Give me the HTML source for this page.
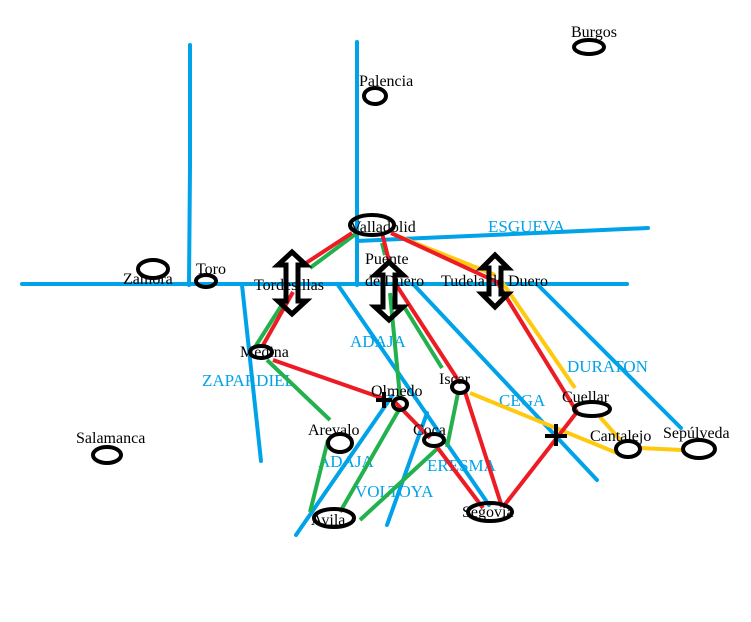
<!DOCTYPE html>
<html><head><meta charset="utf-8"><style>
html,body{margin:0;padding:0;background:#fff;}
svg{display:block}
text{font-family:"Liberation Serif",serif;font-size:16px;}
.b{fill:#00a2e8;font-size:17px}
</style></head><body>
<svg width="751" height="622" viewBox="0 0 751 622" xmlns="http://www.w3.org/2000/svg">
<g stroke="#00a2e8" stroke-width="4" fill="none" stroke-linecap="round">
<polyline points="190,45 190,165 189,285"/>
<line x1="357" y1="42" x2="357" y2="285"/>
<line x1="22" y1="284" x2="627" y2="284"/>
<line x1="357" y1="241" x2="648" y2="228"/>
<line x1="242" y1="285" x2="261" y2="461"/>
<line x1="338" y1="285" x2="489" y2="505"/>
<line x1="414" y1="285" x2="597" y2="480"/>
<line x1="537" y1="284" x2="681" y2="428"/>
<line x1="296" y1="535" x2="392" y2="396"/>
<line x1="387" y1="525" x2="427" y2="413"/>
</g>
<g class="b">
<text x="488" y="232" class="b">ESGUEVA</text>
<text x="567" y="372" class="b">DURATON</text>
<text x="499" y="406" class="b">CEGA</text>
<text x="350" y="347" class="b">ADAJA</text>
<text x="202" y="386" class="b">ZAPARDIEL</text>
<text x="318" y="467" class="b">ADAJA</text>
<text x="427" y="471" class="b">ERESMA</text>
<text x="355" y="497" class="b">VOLTOYA</text>
</g>
<g stroke="#22b14c" stroke-width="4" fill="none">
<line x1="357" y1="233" x2="310" y2="268"/>
<line x1="285" y1="300" x2="255" y2="347"/>
<line x1="267" y1="360" x2="330" y2="420"/>
<line x1="382" y1="243" x2="385" y2="255"/>
<line x1="390" y1="293" x2="400" y2="397"/>
<line x1="403" y1="305" x2="442" y2="368"/>
<line x1="458" y1="393" x2="447" y2="447"/>
<line x1="438" y1="448" x2="360" y2="520"/>
<line x1="400" y1="408" x2="340" y2="512"/>
<line x1="328" y1="440" x2="310" y2="512"/>
</g>
<g stroke="#ffc90e" stroke-width="4" fill="none">
<line x1="395" y1="235" x2="495" y2="275"/>
<line x1="502" y1="282" x2="575" y2="388"/>
<line x1="470" y1="393" x2="617" y2="453"/>
<line x1="600" y1="417" x2="622" y2="442"/>
<line x1="640" y1="448" x2="682" y2="450"/>
</g>
<g stroke="#ed1c24" stroke-width="4" fill="none">
<line x1="352" y1="233" x2="303" y2="265"/>
<line x1="293" y1="292" x2="262" y2="347"/>
<line x1="273" y1="360" x2="382" y2="398"/>
<line x1="393" y1="400" x2="430" y2="438"/>
<line x1="437" y1="447" x2="483" y2="508"/>
<line x1="382" y1="233" x2="390" y2="265"/>
<line x1="395" y1="283" x2="460" y2="383"/>
<line x1="465" y1="392" x2="502" y2="507"/>
<polyline points="391,233 497,282 577,412"/>
<line x1="577" y1="412" x2="503" y2="507"/>
</g>
<g stroke="#000" stroke-width="4" fill="none">
<ellipse cx="589" cy="47" rx="15" ry="7"/>
<ellipse cx="375" cy="96" rx="11" ry="8"/>
<ellipse cx="372" cy="225" rx="22" ry="10"/>
<ellipse cx="153" cy="269" rx="15" ry="9"/>
<ellipse cx="206" cy="281" rx="10" ry="6"/>
<ellipse cx="107" cy="455" rx="14" ry="8"/>
<ellipse cx="261" cy="352" rx="11" ry="6"/>
<ellipse cx="400" cy="404" rx="7" ry="6"/>
<ellipse cx="340" cy="443" rx="12" ry="9"/>
<ellipse cx="434" cy="440" rx="10" ry="6"/>
<ellipse cx="460" cy="387" rx="8" ry="6"/>
<ellipse cx="334" cy="518" rx="20" ry="9"/>
<ellipse cx="490" cy="512" rx="22" ry="9"/>
<ellipse cx="592" cy="409" rx="18" ry="7"/>
<ellipse cx="628" cy="449" rx="12" ry="8"/>
<ellipse cx="699" cy="449" rx="16" ry="9"/>
<path d="M376,400 h16 M384,392 v16 M545,436 h22 M556,424 v22"/>
</g>
<g stroke="#000" stroke-width="5" fill="none" stroke-linejoin="miter">
<polygon transform="translate(292,283)" points="0,-31 14,-18 6,-18 6,18 14,18 0,31 -14,18 -6,18 -6,-18 -14,-18"/>
<polygon transform="translate(389,291)" points="0,-29 14,-16 6,-16 6,16 14,16 0,29 -14,16 -6,16 -6,-16 -14,-16"/>
<polygon transform="translate(495,281)" points="0,-26 13,-13 6,-13 6,13 13,13 0,26 -13,13 -6,13 -6,-13 -13,-13"/>
</g>
<g fill="#000">
<text x="571" y="37">Burgos</text>
<text x="359" y="86">Palencia</text>
<text x="350" y="232">Valladolid</text>
<text x="123" y="284">Zamora</text>
<text x="196" y="274">Toro</text>
<text x="76" y="443">Salamanca</text>
<text x="240" y="357">Medina</text>
<text x="371" y="396">Olmedo</text>
<text x="308" y="435">Arevalo</text>
<text x="413" y="435">Coca</text>
<text x="439" y="384">Iscar</text>
<text x="311" y="525">Avila</text>
<text x="462" y="517">Segovia</text>
<text x="562" y="402">Cuellar</text>
<text x="590" y="441">Cantalejo</text>
<text x="663" y="438">Sepúlveda</text>
<text x="254" y="290">Tordesillas</text>
<text x="365" y="264">Puente</text>
<text x="365" y="286">de Duero</text>
<text x="441" y="286">Tudela de Duero</text>
</g>
</svg>
</body></html>
